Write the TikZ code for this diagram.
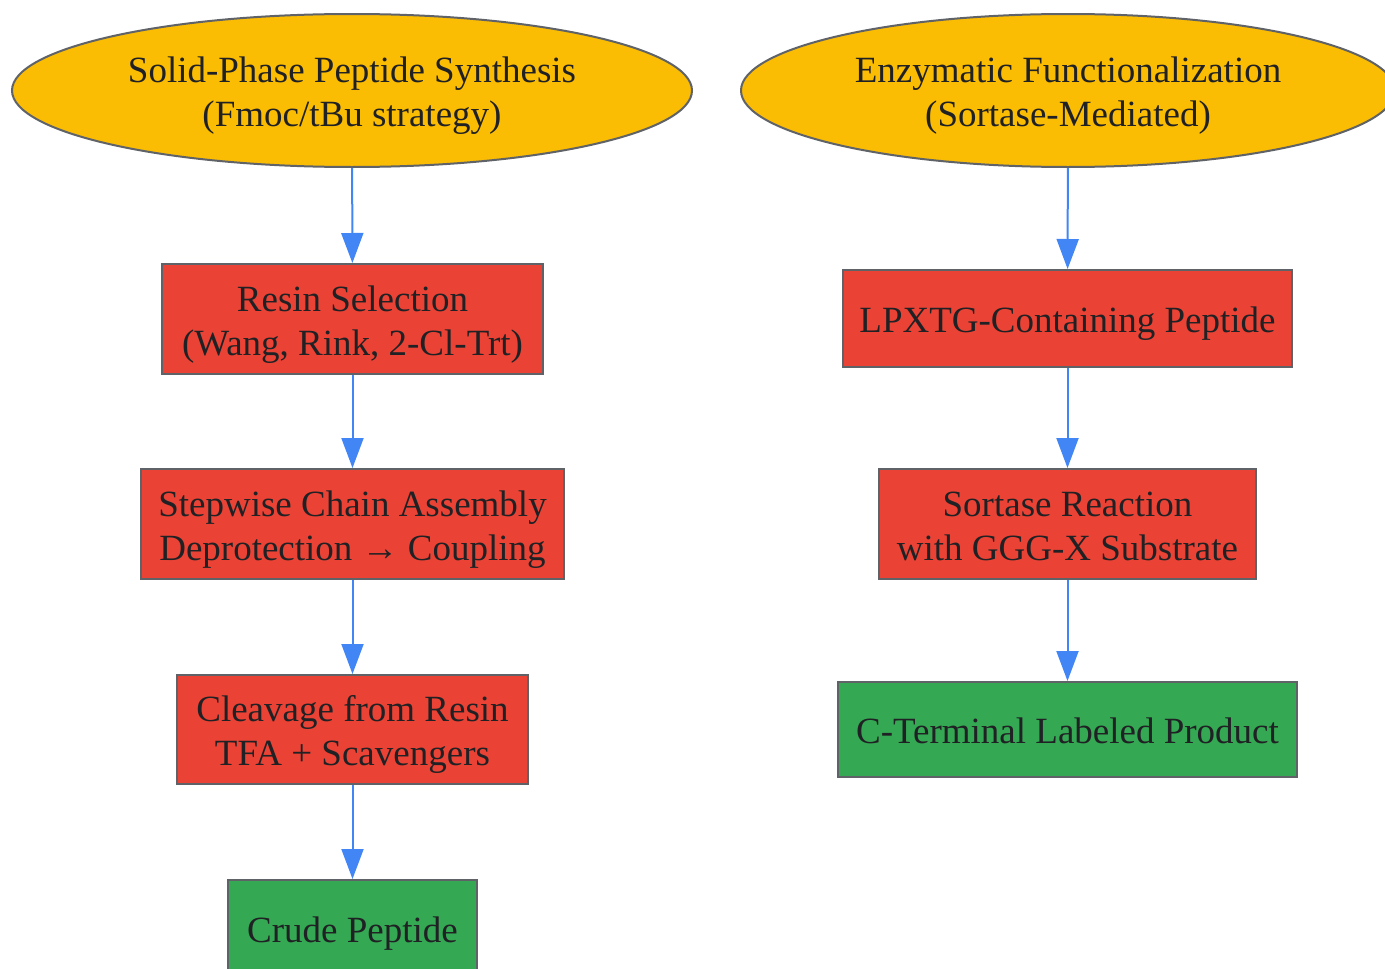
\documentclass[tikz,border=0pt]{standalone}
\usepackage{fontspec}
\setmainfont{Liberation Serif}
\usetikzlibrary{shapes.geometric,arrows.meta}
\definecolor{ellfill}{HTML}{FBBC04}
\definecolor{redfill}{HTML}{EA4335}
\definecolor{greenfill}{HTML}{34A853}
\definecolor{bordergray}{HTML}{5F6368}
\definecolor{textdark}{HTML}{202124}
\definecolor{arrowblue}{HTML}{4285F4}
\newcommand\lnstrut{\rule[-8pt]{0pt}{44pt}}
\tikzset{
  base/.style={draw=bordergray, line width=2pt, inner sep=0pt, align=center,
    text=textdark, font=\fontsize{37}{44}\selectfont},
  startnode/.style={base, ellipse, fill=ellfill},
  stepbox/.style={base, rectangle, fill=redfill},
  endbox/.style={base, rectangle, fill=greenfill},
  flow/.style={draw=arrowblue, line width=2pt, -{Triangle[length=30pt,width=22pt]}}
}
\begin{document}
\begin{tikzpicture}[x=1pt,y=-1pt]
\useasboundingbox (0,0) rectangle (1385,969);
\clip (0,0) rectangle (1385,969);
% left column
\node[startnode, minimum width=680pt, minimum height=153pt] (spps) at (352,90.5) {\lnstrut Solid-Phase Peptide Synthesis\\\lnstrut(Fmoc/tBu strategy)};
\node[stepbox, minimum width=381pt, minimum height=110pt] (resin) at (352.5,319) {\lnstrut Resin Selection\\\lnstrut(Wang, Rink, 2-Cl-Trt)};
\node[stepbox, minimum width=423pt, minimum height=110pt] (chain) at (352.5,524) {\lnstrut Stepwise Chain Assembly\\\lnstrut Deprotection → Coupling};
\node[stepbox, minimum width=351pt, minimum height=109pt] (cleave) at (352.5,729.5) {\lnstrut Cleavage from Resin\\\lnstrut TFA + Scavengers};
\node[endbox, minimum width=249pt, minimum height=97pt] (crude) at (352.5,928.5) {\lnstrut Crude Peptide};
% right column
\node[startnode, minimum width=654pt, minimum height=153pt] (enz) at (1068,90.5) {\lnstrut Enzymatic Functionalization\\\lnstrut(Sortase-Mediated)};
\node[stepbox, minimum width=449pt, minimum height=97pt] (lpxtg) at (1067.5,318.5) {\lnstrut LPXTG-Containing Peptide};
\node[stepbox, minimum width=377pt, minimum height=110pt] (sortase) at (1067.5,524) {\lnstrut Sortase Reaction\\\lnstrut with GGG-X Substrate};
\node[endbox, minimum width=459pt, minimum height=95pt] (cterm) at (1067.5,729.5) {\lnstrut C-Terminal Labeled Product};
% connectors
\draw[flow] (spps) -- (resin);
\draw[flow] (resin) -- (chain);
\draw[flow] (chain) -- (cleave);
\draw[flow] (cleave) -- (crude);
\draw[flow] (enz) -- (lpxtg);
\draw[flow] (lpxtg) -- (sortase);
\draw[flow] (sortase) -- (cterm);
\end{tikzpicture}
\end{document}
